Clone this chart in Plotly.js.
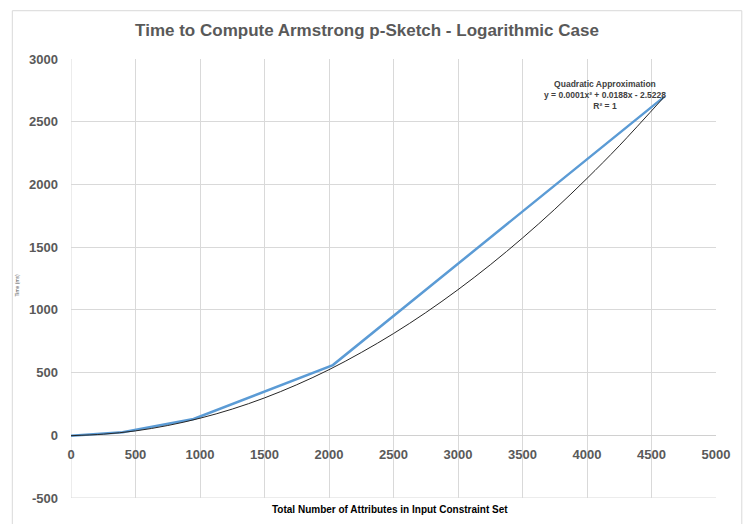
<!DOCTYPE html>
<html>
<head>
<meta charset="utf-8">
<script src="https://cdn.plot.ly/plotly-3.0.1.min.js"></script>
<style>html,body{margin:0;padding:0;background:#fff;}#chart{width:749px;height:524px;}</style>
</head>
<body>
<div id="chart"></div>
<script>
// Measured times (blue series)
const measuredX = [0, 400, 950, 2030, 4600];
const measuredY = [-3, 25, 130, 560, 2700];
// Quadratic trend line
const trendX = [0, 250, 500, 750, 1000, 1250, 1500, 1750, 2000, 2250, 2500, 2750, 3000, 3250, 3500, 3750, 4000, 4250, 4600];
const trendY = [-3, 9, 35, 78, 136, 209, 298, 403, 523, 660, 811, 978, 1161, 1359, 1573, 1802, 2048, 2308, 2700];
const xTicks = [0, 500, 1000, 1500, 2000, 2500, 3000, 3500, 4000, 4500, 5000];
const yTicks = [-500, 0, 500, 1000, 1500, 2000, 2500, 3000];

const titleText = "Time to Compute Armstrong p-Sketch - Logarithmic Case";
const xTitle = "Total Number of Attributes in Input Constraint Set";
const yTitle = "Time (ms)";
const fitText = "Quadratic Approximation<br>y = 0.0001x² + 0.0188x - 2.5228<br>R² = 1";

const FONT = "Liberation Sans, Arial, sans-serif";

const traces = [
  {x: measuredX, y: measuredY, type: 'scatter', mode: 'lines',
   line: {color: '#5B9BD5', width: 2.5}, hoverinfo: 'none'},
  {x: trendX, y: trendY, type: 'scatter', mode: 'lines',
   line: {color: '#262626', width: 1, shape: 'spline'}, hoverinfo: 'none'}
];

const layout = {
  width: 749, height: 524,
  margin: {l: 71, r: 33, t: 59, b: 26},
  paper_bgcolor: '#ffffff', plot_bgcolor: '#ffffff',
  showlegend: false,
  font: {family: FONT, color: '#595959'},
  title: {text: titleText, x: 0.49, xanchor: 'center', y: 0.943, yanchor: 'middle',
          font: {family: FONT, size: 17, color: '#595959', weight: 'bold'}},
  xaxis: {range: [0, 5000], tickvals: xTicks, ticktext: xTicks.map(String),
          showgrid: true, gridcolor: '#d9d9d9', gridwidth: 1,
          zeroline: false, showline: false,
          anchor: 'free', position: 500/3500,
          ticks: '', ticklabelstandoff: 10,
          tickfont: {family: FONT, size: 13, color: '#595959', weight: 'bold'}},
  yaxis: {range: [-500, 3000], tickvals: yTicks, ticktext: yTicks.map(String),
          showgrid: true, gridcolor: '#d9d9d9', gridwidth: 1,
          zeroline: true, zerolinecolor: '#d0d0d0', zerolinewidth: 1,
          showline: false, ticks: '', ticklabelstandoff: 12,
          tickfont: {family: FONT, size: 13, color: '#595959', weight: 'bold'}},
  annotations: [
    {text: fitText, xref: 'x', yref: 'paper', x: 4140, y: 0.917, xanchor: 'center', yanchor: 'middle',
     showarrow: false, align: 'center', font: {family: FONT, size: 8.5, color: '#404040', weight: 'bold'}},
    {text: xTitle, xref: 'paper', yref: 'paper', x: 0.495, y: -0.027, xanchor: 'center', yanchor: 'middle',
     showarrow: false, font: {family: FONT, size: 10, color: '#000000', weight: 'bold'}},
    {text: yTitle, xref: 'paper', yref: 'paper', x: -0.083, y: 0.485, xanchor: 'center', yanchor: 'middle',
     textangle: -90, showarrow: false, font: {family: FONT, size: 5, color: '#595959'}}
  ],
  shapes: [
    {type: 'rect', xref: 'paper', yref: 'paper', x0: -0.091, x1: 1.04, y0: -0.1, y1: 1.11,
     line: {color: '#d9d9d9', width: 1}},
    {type: 'line', xref: 'paper', yref: 'y', x0: 0, x1: 1, y0: -500, y1: -500,
     line: {color: '#d9d9d9', width: 1}, layer: 'below'},
    {type: 'line', xref: 'x', yref: 'paper', x0: 0, x1: 0, y0: 0, y1: 1,
     line: {color: '#d9d9d9', width: 1}, layer: 'below'}
  ]
};

Plotly.newPlot('chart', traces, layout, {displayModeBar: false, staticPlot: true});
</script>
</body>
</html>
